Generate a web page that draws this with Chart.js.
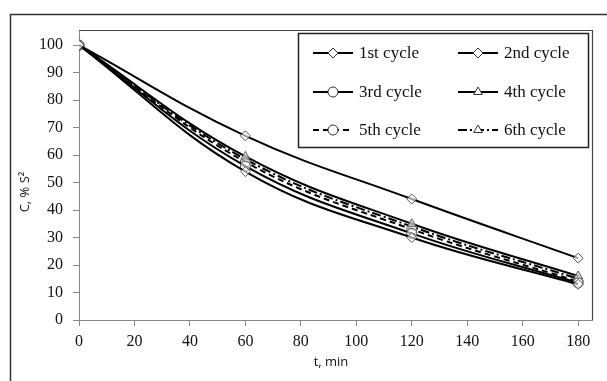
<!DOCTYPE html>
<html>
<head>
<meta charset="utf-8">
<script src="https://cdn.jsdelivr.net/npm/chart.js@4"></script>
<style>
  html, body { margin: 0; padding: 0; background: #fff; }
  #wrap { width: 607px; height: 381px; }
</style>
</head>
<body>
<div id="wrap"><canvas id="chart" width="607" height="381"></canvas></div>
<script>
const times = [0, 60, 120, 180];
const cycle1 = [100, 67, 44, 22.5];
const cycle2 = [100, 54, 30, 13];
const cycle3 = [100, 56, 31.5, 13.5];
const cycle4 = [100, 59.5, 35, 16];
const cycle5 = [100, 57.5, 33, 14];
const cycle6 = [100, 58.5, 34, 15];
const xTicks = [0, 20, 40, 60, 80, 100, 120, 140, 160, 180];
const yTicks = [0, 10, 20, 30, 40, 50, 60, 70, 80, 90, 100];

const names = ["1st cycle", "2nd cycle", "3rd cycle", "4th cycle", "5th cycle", "6th cycle"];
const values = [cycle1, cycle2, cycle3, cycle4, cycle5, cycle6];
const markers = ["rectRot", "rectRot", "circle", "triangle", "circle", "triangle"];
const dashes = [[], [], [], [], [6, 4], [9, 3, 2, 3]];

const serif = "'Liberation Serif', 'DejaVu Serif', serif";
const sans = "'Open Sans', 'Liberation Sans', sans-serif";

const extras = {
  id: "extras",
  afterDraw(chart) {
    const c = chart.ctx, a = chart.chartArea;
    c.save();
    // outer frame
    c.strokeStyle = "#333";
    c.lineWidth = 1.5;
    c.beginPath();
    c.moveTo(10.5, 381);
    c.lineTo(10.5, 14.5);
    c.lineTo(607, 14.5);
    c.stroke();
    // plot area top/right edges
    c.strokeStyle = "#444";
    c.lineWidth = 1.2;
    c.beginPath();
    c.moveTo(a.left, a.top + 0.5);
    c.lineTo(a.right + 0.5, a.top + 0.5);
    c.lineTo(a.right + 0.5, a.bottom);
    c.stroke();
    // axis titles
    c.fillStyle = "#111";
    c.font = "13px " + sans;
    c.textAlign = "center";
    c.textBaseline = "middle";
    c.fillText("t, min", 331, 362);
    c.translate(25, 192);
    c.rotate(-Math.PI / 2);
    c.fillText("C, % S²", 0, 0);
    c.restore();

    // legend
    c.save();
    c.fillStyle = "#fff";
    c.fillRect(298, 33, 290, 114);
    c.strokeStyle = "#222";
    c.lineWidth = 1.5;
    c.strokeRect(298.5, 33.5, 290, 114);
    const rows = [53, 92, 130];
    const cols = [313, 458];
    chart.data.datasets.forEach((ds, i) => {
      const x = cols[i % 2], y = rows[Math.floor(i / 2)];
      c.strokeStyle = "#000";
      c.lineWidth = 2;
      c.setLineDash(ds.borderDash);
      c.beginPath();
      c.moveTo(x, y);
      c.lineTo(x + 40, y);
      c.stroke();
      c.setLineDash([]);
      c.fillStyle = "#fff";
      c.strokeStyle = "#333";
      c.lineWidth = 1;
      Chart.helpers.drawPoint(c, { pointStyle: ds.pointStyle, radius: 5, borderWidth: 1 }, x + 20, y);
      c.fillStyle = "#111";
      c.font = "17px " + serif;
      c.textAlign = "left";
      c.textBaseline = "middle";
      c.fillText(ds.label, x + 46, y + 1);
    });
    c.restore();
  }
};

new Chart(document.getElementById("chart"), {
  type: "line",
  data: {
    datasets: names.map((n, i) => ({
      label: n,
      data: times.map((t, j) => ({ x: t, y: values[i][j] })),
      borderColor: "#000",
      borderWidth: 2,
      borderDash: dashes[i],
      tension: 0.4,
      pointStyle: markers[i],
      pointRadius: 5,
      pointBorderWidth: 1,
      pointBorderColor: "#555",
      pointBackgroundColor: "rgba(255,255,255,0.6)"
    }))
  },
  options: {
    responsive: false,
    animation: false,
    layout: { padding: { left: 10, top: 30, right: 15, bottom: 0 } },
    plugins: { legend: { display: false }, tooltip: { enabled: false } },
    scales: {
      x: {
        type: "linear",
        min: 0,
        max: 185,
        afterBuildTicks: s => { s.ticks = xTicks.map(v => ({ value: v })); },
        afterFit: s => { s.height = 61; },
        grid: { drawOnChartArea: false, drawTicks: true, tickLength: 6, color: "#888" },
        border: { color: "#888", width: 1 },
        ticks: { color: "#111", padding: 6, maxRotation: 0, font: { family: serif, size: 16 } }
      },
      y: {
        min: 0,
        max: 105.5,
        afterBuildTicks: s => { s.ticks = yTicks.map(v => ({ value: v })); },
        afterFit: s => { s.width = 69; },
        grid: { drawOnChartArea: false, drawTicks: true, tickLength: 6, color: "#888" },
        border: { color: "#888", width: 1 },
        ticks: { color: "#111", padding: 10, font: { family: serif, size: 16 } }
      }
    }
  },
  plugins: [extras]
});
</script>
</body>
</html>
